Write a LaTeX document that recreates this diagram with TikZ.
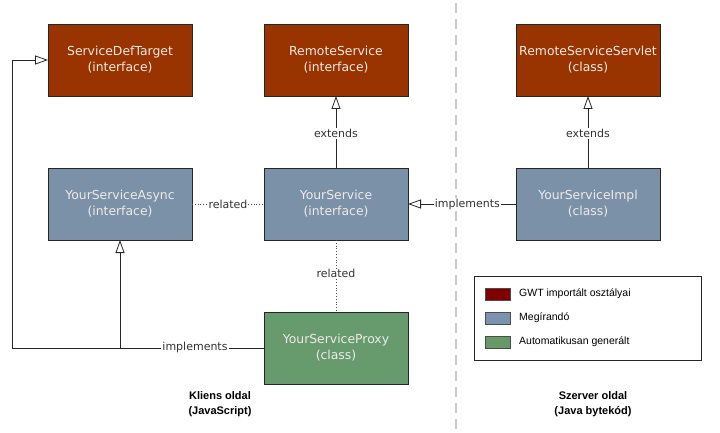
\documentclass[tikz,border=0pt]{standalone}
\usepackage{fontspec}
\setmainfont{DejaVu Sans}
\newfontfamily\legfont{Liberation Sans}
\usetikzlibrary{arrows.meta}
\definecolor{gwtred}{HTML}{993300}
\definecolor{usrblue}{HTML}{7B91A8}
\definecolor{autogreen}{HTML}{679A6D}
\definecolor{boxtext}{HTML}{F0EAE6}
\definecolor{lbl}{HTML}{333333}
\definecolor{divider}{HTML}{CCCCCC}
\definecolor{legred}{HTML}{800000}
\definecolor{legblue}{HTML}{7B93AE}
\definecolor{leggreen}{HTML}{669966}
\tikzset{
  umlbox/.style={draw=black!85, line width=0.9pt, minimum width=144pt, minimum height=72pt,
    inner sep=0pt, outer sep=0pt, align=center, text=boxtext,
    font=\fontsize{12.4}{16}\selectfont},
  gwtbox/.style={umlbox, fill=gwtred},
  usrbox/.style={umlbox, fill=usrblue},
  autobox/.style={umlbox, fill=autogreen},
  conn/.style={draw=black!85, line width=0.8pt},
  inherit/.style={conn, -{Triangle[open, length=13pt, width=9pt, fill=white]}},
  rel/.style={draw=black!70, line width=0.8pt, dotted},
  clabel/.style={fill=white, inner sep=1pt, text=lbl, font=\fontsize{11}{12}\selectfont},
  swatch/.style={draw=black!70, line width=0.8pt},
  legtext/.style={anchor=west, inner sep=0pt, font=\legfont\fontsize{10.5}{12}\selectfont},
  sidelabel/.style={align=center, font=\legfont\bfseries\fontsize{11}{15}\selectfont}
}
\begin{document}
\begin{tikzpicture}[x=1pt,y=-1pt]
\useasboundingbox (0,0) rectangle (720,433);
% divider
\draw[divider, line width=1.6pt, dash pattern=on 10pt off 6pt] (456,3) -- (456,433);
% boxes
\node[gwtbox] (sdt) at (120,60) {ServiceDefTarget\\(interface)};
\node[gwtbox] (rs) at (336,60) {RemoteService\\(interface)};
\node[gwtbox] (rss) at (588,60) {RemoteServiceServlet\\(class)};
\node[usrbox] (async) at (120,204) {YourServiceAsync\\(interface)};
\node[usrbox] (ys) at (336,204) {YourService\\(interface)};
\node[usrbox] (impl) at (588,204) {YourServiceImpl\\(class)};
\node[autobox] (proxy) at (336,348) {YourServiceProxy\\(class)};
% connectors
\coordinate (corner) at (12,348);
\draw[inherit] (proxy.west) -- (corner) |- (sdt.west);
\draw[inherit] (proxy.west) -| (async.south);
\node[clabel] at (195,347) {implements};
\draw[inherit] (ys.north) -- node[clabel, pos=0.48] {extends} (rs.south);
\draw[inherit] (impl.north) -- node[clabel, pos=0.48] {extends} (rss.south);
\draw[inherit] (impl.west) -- node[clabel, pos=0.45] {implements} (ys.east);
\draw[rel] (async.east) -- node[clabel] {related} (ys.west);
\draw[rel] (ys.south) -- node[clabel, pos=0.47] {related} (proxy.north);
% legend
\node[draw=black!85, line width=0.9pt, minimum width=227pt, minimum height=84pt, inner sep=0pt] (legend) at (587.5,318) {};
\node[swatch, fill=legred, minimum width=25pt, minimum height=12pt, inner sep=0pt] (sw1) at (497.5,294) {};
\node[swatch, fill=legblue, minimum width=25pt, minimum height=12pt, inner sep=0pt] (sw2) at (497.5,318) {};
\node[swatch, fill=leggreen, minimum width=25pt, minimum height=12pt, inner sep=0pt] (sw3) at (497.5,342) {};
\node[legtext] (lt1) at (519,294) {GWT importált osztályai};
\node[legtext] (lt2) at (519,318) {Megírandó};
\node[legtext] (lt3) at (519,342) {Automatikusan generált};
% side labels
\node[sidelabel] (client) at (220,404) {Kliens oldal\\(JavaScript)};
\node[sidelabel] (server) at (593,404) {Szerver oldal\\(Java bytekód)};
\end{tikzpicture}
\end{document}
